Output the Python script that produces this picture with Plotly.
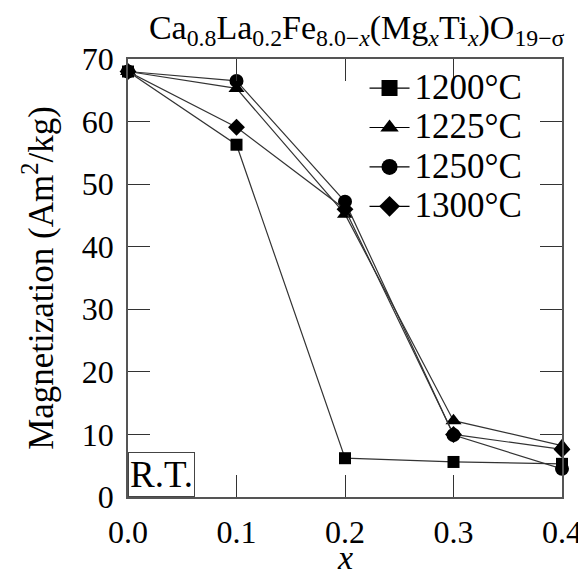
import plotly.graph_objects as go

x_vals = [0.0, 0.1, 0.2, 0.3, 0.4]
m_1200 = [68.0, 56.3, 6.2, 5.6, 5.3]
m_1225 = [68.0, 65.3, 45.2, 12.2, 8.2]
m_1250 = [68.0, 66.5, 47.2, 9.9, 4.5]
m_1300 = [68.0, 59.1, 46.0, 10.0, 7.6]
series_names = ["1200°C", "1225°C", "1250°C", "1300°C"]
symbols = ["square", "triangle-up", "circle", "diamond"]
y_ticks = [0, 10, 20, 30, 40, 50, 60, 70]
x_ticks = [0.0, 0.1, 0.2, 0.3, 0.4]
x_tick_labels = ["0.0", "0.1", "0.2", "0.3", "0.4"]

FONT = "Liberation Serif"
FS = 32
series = [m_1200, m_1225, m_1250, m_1300]
sizes = [12, 14, 14, 13]

fig = go.Figure()
for name, ys, sym, sz in zip(series_names, series, symbols, sizes):
    fig.add_trace(go.Scatter(
        x=x_vals, y=ys, mode="lines+markers", name=name, showlegend=False,
        line=dict(color="#333333", width=1.2),
        marker=dict(symbol=sym, size=sz, color="black"),
        cliponaxis=False,
    ))
for name, sym in zip(series_names, symbols):
    fig.add_trace(go.Scatter(
        x=[None], y=[None], mode="lines+markers",
        name="<span style='font-size:35px'>" + name + "</span>",
        line=dict(color="black", width=1.2),
        marker=dict(symbol=sym, size=20, color="black"),
    ))

fig.add_annotation(
    x=0.0, y=0, xref="x", yref="y", xanchor="left", yanchor="bottom",
    text="R.T.", showarrow=False, font=dict(family=FONT, size=37, color="black"),
    bordercolor="#444444", borderwidth=1, borderpad=1, bgcolor="white",
)
fig.add_annotation(
    x=0.5, y=-0.182, xref="paper", yref="paper", xanchor="center", yanchor="bottom",
    text="<i>x</i>", showarrow=False, font=dict(family=FONT, size=34, color="black"),
    borderpad=0,
)

axis_common = dict(
    showgrid=False, zeroline=False, showline=True, linecolor="#555555", linewidth=1.5,
    mirror="ticks", ticks="inside", ticklen=22, tickwidth=1, tickcolor="#333333",
    tickfont=dict(family=FONT, size=FS, color="black"),
)
fig.update_xaxes(
    range=[0.0, 0.4], tickvals=x_ticks, ticktext=x_tick_labels, ticklabelstandoff=6,
    **axis_common,
)
fig.update_yaxes(
    range=[0, 70], tickvals=y_ticks, ticklabelstandoff=6,
    title=dict(text="Magnetization (Am<sup>2</sup>/kg)", font=dict(family=FONT, size=35, color="black"), standoff=18),
    **axis_common,
)

fig.update_layout(
    width=586, height=581,
    margin=dict(l=120, r=29, t=51, b=92),
    paper_bgcolor="white", plot_bgcolor="white",
    title=dict(
        text="Ca<sub>0.8</sub>La<sub>0.2</sub>Fe<sub>8.0−<i>x</i></sub>(Mg<sub><i>x</i></sub>Ti<sub><i>x</i></sub>)O<sub>19−σ</sub>",
        font=dict(family=FONT, size=34, color="black"),
        x=0.595, xanchor="center", y=0.988, yanchor="top",
    ),
    legend=dict(
        x=0.545, y=0.99, xanchor="left", yanchor="top",
        bgcolor="rgba(0,0,0,0)", font=dict(family=FONT, size=28, color="black"),
        tracegroupgap=0, itemwidth=40,
    ),
    showlegend=True,
)

fig.write_html("out.html")
